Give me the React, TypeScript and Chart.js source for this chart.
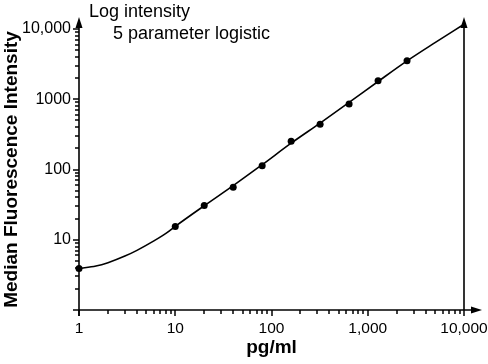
import React, { useEffect, useRef } from 'react';
import { Chart, registerables } from 'chart.js';

Chart.register(...registerables);

// Measured standards (pg/ml -> MFI)
const pointX = [1, 10, 20, 40, 80, 160, 320, 640, 1280, 2560];
const pointY = [3.9, 15.5, 30.8, 56, 113, 253, 442, 857, 1837, 3534];

// Fitted 5-parameter logistic curve
const curveX = [1, 1.5, 2, 3, 4, 6, 8, 10, 20, 40, 80, 160, 320, 640, 1280, 2560, 5000, 10000];
const curveY = [3.9, 4.22, 4.71, 5.85, 7.06, 9.62, 12.3, 15.5, 30.5, 59, 117, 237, 458, 900, 1790, 3520, 6400, 11700];

const xTicks = [1, 10, 100, 1000, 10000];
const xTickLabels = ['1', '10', '100', '1,000', '10,000'];
const yTicks = [10, 100, 1000, 10000];
const yTickLabels = ['10', '100', '1000', '10,000'];
const decades = [1, 10, 100, 1000];
const minorSteps = [2, 3, 4, 5, 6, 7, 8, 9];

const xTitle = 'pg/ml';
const yTitle = 'Median Fluorescence Intensity';
const noteLines = ['Log intensity', '5 parameter logistic'];

const FONT = '"Liberation Sans", Arial, Helvetica, sans-serif';

const axesPlugin = {
  id: 'axesArrows',
  afterDraw(chart: any) {
    const { ctx } = chart;
    const xs = chart.scales.x;
    const ys = chart.scales.y;
    const x0 = Math.round(xs.getPixelForValue(1));
    const x1 = Math.round(xs.getPixelForValue(10000));
    const y0 = Math.round(ys.getPixelForValue(1));
    const yTop = ys.getPixelForValue(10000);
    ctx.save();
    ctx.strokeStyle = '#000';
    ctx.fillStyle = '#000';
    ctx.lineWidth = 1.6;
    const line = (ax: number, ay: number, bx: number, by: number) => {
      ctx.beginPath();
      ctx.moveTo(ax, ay);
      ctx.lineTo(bx, by);
      ctx.stroke();
    };
    const arrowUp = (px: number, tipY: number) => {
      ctx.beginPath();
      ctx.moveTo(px, tipY);
      ctx.lineTo(px - 3.5, tipY + 11);
      ctx.lineTo(px + 3.5, tipY + 11);
      ctx.closePath();
      ctx.fill();
    };
    const arrowRight = (tipX: number, py: number) => {
      ctx.beginPath();
      ctx.moveTo(tipX, py);
      ctx.lineTo(tipX - 11, py - 3.5);
      ctx.lineTo(tipX - 11, py + 3.5);
      ctx.closePath();
      ctx.fill();
    };
    const tipY = Math.round(yTop) - 12;
    const tipX = x1 + 18;
    // axes
    line(x0 - 6, y0, tipX - 4, y0);
    line(x0, y0 + 6, x0, tipY + 4);
    line(x1, y0, x1, tipY + 4);
    arrowUp(x0, tipY);
    arrowUp(x1, tipY);
    arrowRight(tipX, y0);
    // tick marks
    ctx.lineWidth = 1.5;
    for (const v of yTicks) {
      const py = Math.round(ys.getPixelForValue(v));
      line(x0 - 6, py, x0, py);
    }
    for (const v of xTicks) {
      const px = Math.round(xs.getPixelForValue(v));
      line(px, y0, px, y0 + 6);
    }
    for (const d of decades) {
      for (const k of minorSteps) {
        const py = Math.round(ys.getPixelForValue(k * d));
        line(x0 - 4, py, x0, py);
        const px = Math.round(xs.getPixelForValue(k * d));
        line(px, y0, px, y0 + 4);
      }
    }
    // note text
    ctx.font = `18px ${FONT}`;
    ctx.textBaseline = 'alphabetic';
    ctx.textAlign = 'left';
    ctx.fillText(noteLines[0], 89, 17);
    ctx.fillText(noteLines[1], 113, 39);
    ctx.restore();
  },
};

export default function App() {
  const ref = useRef<HTMLCanvasElement | null>(null);
  useEffect(() => {
    document.body.style.margin = '0';
    const canvas = ref.current;
    if (!canvas) return;
    const xTickFont = { family: FONT, size: 15.5 };
    const yTickFont = { family: FONT, size: 16 };
    const titleFont = { family: FONT, size: 19, weight: 'bold' as const };
    const chart = new Chart(canvas, {
      type: 'scatter',
      data: {
        datasets: [
          {
            label: 'fit',
            data: curveX.map((x, i) => ({ x, y: curveY[i] })),
            showLine: true,
            borderColor: '#000',
            borderWidth: 1.6,
            pointRadius: 0,
            cubicInterpolationMode: 'monotone',
            clip: false as any,
          },
          {
            label: 'standards',
            data: pointX.map((x, i) => ({ x, y: pointY[i] })),
            showLine: false,
            backgroundColor: '#000',
            borderColor: '#000',
            pointRadius: 3.5,
            pointBorderWidth: 0,
            clip: false as any,
          },
        ],
      },
      options: {
        responsive: false,
        animation: false,
        layout: { padding: { left: 0, right: 24, top: 29, bottom: 0 } },
        plugins: { legend: { display: false }, tooltip: { enabled: false } },
        scales: {
          x: {
            type: 'logarithmic',
            min: 1,
            max: 10000,
            afterBuildTicks: (s: any) => {
              s.ticks = xTicks.map((v) => ({ value: v }));
            },
            afterFit: (s: any) => {
              s.height = 54;
              s.paddingLeft = 0;
              s.paddingRight = 0;
            },
            grid: { display: false, drawTicks: false },
            border: { display: false },
            ticks: {
              autoSkip: false,
              maxRotation: 0,
              padding: 9,
              color: '#000',
              font: xTickFont,
              callback: (_v: any, i: number) => xTickLabels[i],
            },
            title: {
              display: true,
              text: xTitle,
              color: '#000',
              font: titleFont,
              padding: { top: 0, bottom: 5 },
            },
          },
          y: {
            type: 'logarithmic',
            min: 1,
            max: 10000,
            afterBuildTicks: (s: any) => {
              s.ticks = yTicks.map((v) => ({ value: v }));
            },
            afterFit: (s: any) => {
              s.width = 79;
              s.paddingTop = 0;
              s.paddingBottom = 0;
            },
            grid: { display: false, drawTicks: false },
            border: { display: false },
            ticks: {
              autoSkip: false,
              padding: 8,
              color: '#000',
              font: yTickFont,
              callback: (_v: any, i: number) => yTickLabels[i],
            },
            title: {
              display: true,
              text: yTitle,
              color: '#000',
              font: titleFont,
              padding: { top: 0, bottom: 0 },
            },
          },
        },
      } as any,
      plugins: [axesPlugin],
    });
    return () => chart.destroy();
  }, []);
  return (
    <div style={{ width: 488, height: 364 }}>
      <canvas ref={ref} width={488} height={364} />
    </div>
  );
}
